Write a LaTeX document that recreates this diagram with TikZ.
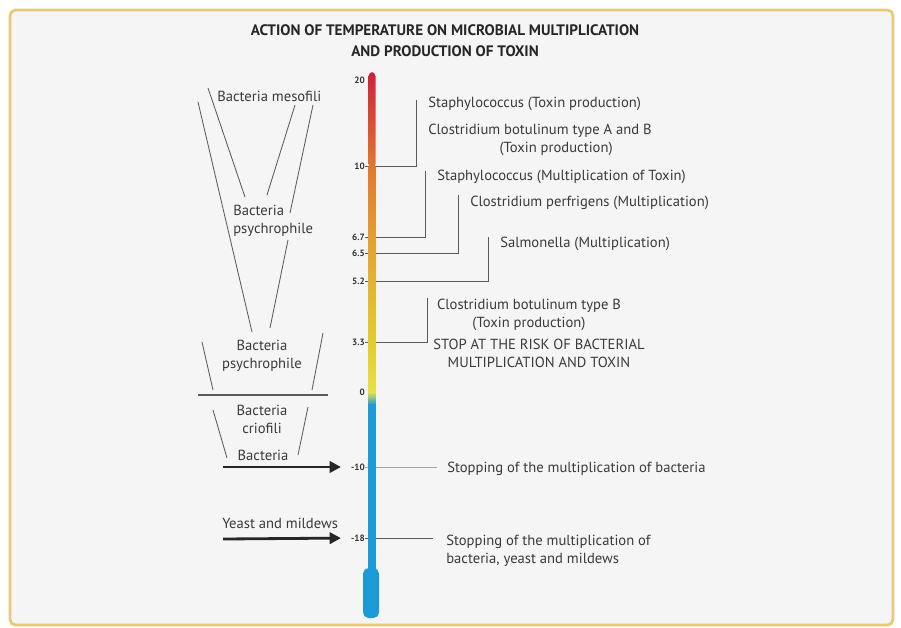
\documentclass[tikz,border=0pt]{standalone}
\usepackage{fontspec}
\setmainfont{PT Sans}
\usepackage{tikz}
\usetikzlibrary{arrows.meta}
\definecolor{FrameGold}{HTML}{E9C87A}
\definecolor{PaperGrey}{HTML}{F5F5F5}
\definecolor{InkGrey}{HTML}{3A3A3A}
\definecolor{LeadGrey}{HTML}{5A5A5A}
\definecolor{ThermoRed}{HTML}{D0203A}
\definecolor{ThermoOrange}{HTML}{E2782E}
\definecolor{ThermoAmber}{HTML}{E3A832}
\definecolor{ThermoYellow}{HTML}{E4CC2E}
\definecolor{ThermoPale}{HTML}{E8E048}
\definecolor{ThermoBlue}{HTML}{1C9AD8}

\begin{document}
\begin{tikzpicture}[
      x=0.025cm, y=-0.025cm,
      every node/.style={text=InkGrey, inner sep=0pt, font=\fontsize{10.4}{12.8}\selectfont},
      txt/.style={anchor=west},
      note/.style={align=center},
      tickno/.style={anchor=east, text=black!80, font=\bfseries\fontsize{6.5}{7}\selectfont},
      lead/.style={LeadGrey, line width=0.6pt},
      wedge/.style={LeadGrey, line width=0.6pt},
      bigarrow/.style={black!85, line width=2pt, -{Triangle[length=8pt,width=8pt]}, shorten >=7pt}
    ]
      \fill[white] (0,0) rectangle (901,627);
      \useasboundingbox (0,0) rectangle (901,627);
      \draw[FrameGold, line width=2pt, fill=PaperGrey, rounded corners=4pt] (10,10) rectangle (893,625);

      \node[note, text=black!85, font=\bfseries\fontsize{10.8}{15}\selectfont] (title) at (445,41)
        {ACTION OF TEMPERATURE ON MICROBIAL MULTIPLICATION\\AND PRODUCTION OF TOXIN};

      % scale
      \node[tickno] (t20) at (365,80) {20};
      \node[tickno] (t10) at (365,166) {10};
      \node[tickno] (t67) at (365,237) {6.7};
      \node[tickno] (t65) at (365,253) {6.5};
      \node[tickno] (t52) at (365,281) {5.2};
      \node[tickno] (t33) at (365,342) {3.3};
      \node[tickno] (t0) at (365,392) {0};
      \node[tickno] (tm10) at (365,467) {-10};
      \node[tickno] (tm18) at (365,538) {-18};

      % right hand notes
      \node[txt] (staphtox) at (428,104) {Staphylococcus (Toxin production)};
      \node[note] (clostab) at (540,140) {Clostridium botulinum type A and B\\\hspace*{2.2em}(Toxin production)};
      \node[txt] (staphmul) at (437,177) {Staphylococcus (Multiplication of Toxin)};
      \node[txt] (perfr) at (470,203) {Clostridium perfrigens (Multiplication)};
      \node[txt] (salmo) at (500,244) {Salmonella (Multiplication)};
      \node[note] (clostb) at (529,315) {Clostridium botulinum type B\\(Toxin production)};
      \node[note] (stop) at (539,353) {STOP AT THE RISK OF BACTERIAL\\MULTIPLICATION AND TOXIN};
      \node[txt] (stopbac) at (447,469) {Stopping of the multiplication of bacteria};
      \node[txt, align=left] (stopall) at (446,551) {Stopping of the multiplication of\\bacteria, yeast and mildews};

      \coordinate (k10) at (416,100);
      \coordinate (k67) at (425,171);
      \coordinate (k65) at (458,195);
      \coordinate (k52) at (488,237);
      \coordinate (k33) at (427,298);
      \coordinate (km10) at (437,467);
      \coordinate (km18) at (433,538);
      \draw[lead] (t10.east) -| (k10);
      \draw[lead] (t67.east) -| (k67);
      \draw[lead] (t65.east) -| (k65);
      \draw[lead] (t52.east) -| (k52);
      \draw[lead] (t33.east) -| (k33);
      \draw[lead, LeadGrey!55] (tm10.east) -- (km10);
      \draw[lead] (tm18.east) -- (km18);

      % thermometer
      \shade[top color=ThermoRed, bottom color=ThermoOrange, rounded corners=3pt] (368.5,72) rectangle (375.5,168);
      \shade[top color=ThermoOrange, bottom color=ThermoAmber] (368.5,166) rectangle (375.5,256);
      \shade[top color=ThermoAmber, bottom color=ThermoYellow] (368.5,255) rectangle (375.5,346);
      \shade[top color=ThermoYellow, bottom color=ThermoPale] (368.5,345) rectangle (375.5,393);
      \shade[top color=ThermoPale, bottom color=ThermoBlue] (368.5,392) rectangle (375.5,405);
      \fill[ThermoBlue] (367.5,404) rectangle (375.5,576);
      \fill[ThermoBlue, rounded corners=4pt] (363,568) rectangle (379,618);

      % left hand groups
      \node[txt] (meso) at (217,96) {Bacteria mesofili};
      \node[txt, align=left] (psyA) at (233,221) {Bacteria\\psychrophile};
      \node[note] (psyB) at (262,356) {Bacteria\\psychrophile};
      \node[note] (crio) at (262,419) {Bacteria\\criofili};
      \node[note] (bact) at (263,455) {Bacteria};
      \node[txt] (yeast) at (222,523) {Yeast and mildews};

      \draw[wedge] (208,88) -- (245,197);
      \draw[wedge] (295,105) -- (267,195);
      \draw[wedge] (198,102) -- (252,332);
      \draw[wedge] (313,105) -- (290,213);
      \draw[wedge] (288,240) -- (270,328);
      \draw[wedge] (202,342) -- (213,390);
      \draw[wedge] (323,333) -- (312,390);
      \draw[wedge, line width=1pt] (198,395) -- (328,395);
      \draw[wedge] (213,410) -- (227,458);
      \draw[wedge] (308,407) -- (298,455);

      \coordinate (a10) at (223,467);
      \coordinate (a18) at (223,539);
      \draw[bigarrow] (a10) -- (tm10.west);
      \draw[bigarrow] (a18) -- (tm18.west);
    \end{tikzpicture}
\end{document}
